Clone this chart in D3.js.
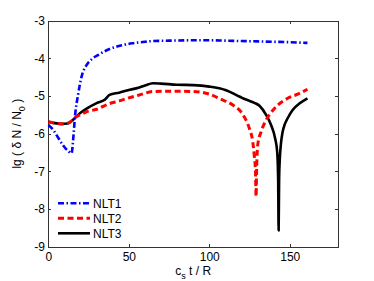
<!DOCTYPE html>
<html>
  <head>
    <meta charset='utf-8'>
    <title></title>
    <script src='https://d3js.org/d3.v7.min.js'></script>
    <style>
      body { margin: 0; background: #fff; }
      svg { display: block; background: #fff; }
      .axis text { font: 12px 'Liberation Sans', Arial, sans-serif; fill: #000; }
      .axis path, .axis line { fill: none; stroke: #333; stroke-width: 1px; shape-rendering: crispEdges; }
      .label, .legend text { font: 12px 'Liberation Sans', Arial, sans-serif; fill: #000; }
    </style>
  </head>
  <body>
  <script type='text/javascript'>

    // values
    var seriesNames = ['NLT1', 'NLT2', 'NLT3'];

    var tNLT1 = [0, 3, 6, 9, 12, 14.4, 15.5, 16.5, 18.5, 20.6, 23.7, 27, 31, 38, 45, 52, 60, 65, 75, 90, 100, 110, 120, 130, 140, 150, 161];
    var lgNLT1 = [-5.77, -5.9, -6.1, -6.3, -6.45, -6.52, -6.1, -5.55, -4.95, -4.49, -4.18, -4.02, -3.91, -3.75, -3.66, -3.6, -3.56, -3.54, -3.53, -3.52, -3.52, -3.53, -3.54, -3.55, -3.56, -3.57, -3.59];

    var tNLT2 = [0, 4, 8, 12, 14.5, 17, 20, 23.7, 30, 38, 44, 50, 56, 65, 75, 90, 100, 106.4, 114.6, 121, 124.9, 127, 128, 128.7, 129.1, 129.4, 130.1, 132.2, 135.3, 140.5, 148.7, 155, 161];
    var lgNLT2 = [-5.68, -5.72, -5.74, -5.72, -5.66, -5.56, -5.49, -5.42, -5.35, -5.2, -5.13, -5.05, -4.98, -4.88, -4.87, -4.88, -4.95, -5.07, -5.24, -5.5, -5.86, -6.21, -6.6, -7.0, -7.67, -7.0, -6.3, -5.95, -5.64, -5.33, -5.06, -4.95, -4.82];

    var tNLT3 = [0, 4, 8, 12, 16, 19.6, 24, 30, 35, 38, 44, 50, 56, 60, 65, 70, 80, 90, 100, 110, 119, 122, 125, 128, 131.2, 135.3, 138.4, 140.9, 142.2, 142.8, 143.1, 143.4, 143.8, 144.5, 145.6, 147, 148.7, 151.8, 156, 161];
    var lgNLT3 = [-5.68, -5.72, -5.74, -5.73, -5.6, -5.46, -5.33, -5.19, -5.1, -4.97, -4.91, -4.84, -4.78, -4.72, -4.66, -4.67, -4.7, -4.71, -4.75, -4.84, -5.02, -5.08, -5.13, -5.18, -5.26, -5.5, -5.77, -6.12, -6.48, -7.2, -8.57, -7.2, -6.7, -6.28, -5.95, -5.74, -5.59, -5.37, -5.2, -5.06];

    var xTicks = [0, 50, 100, 150];
    var yTicks = [-9, -8, -7, -6, -5, -4, -3];

    var width = 374;
    var height = 281;
    var margin = {top: 20.7, right: 36, bottom: 34.3, left: 48.4};
    var w = width - margin.left - margin.right;
    var h = height - margin.top - margin.bottom;

    var svg = d3.select('body').append('svg')
              .attr('width', width)
              .attr('height', height);

    var g = svg.append('g')
              .attr('transform', 'translate(' + margin.left + ',' + margin.top + ')');

    var x = d3.scaleLinear().domain([0, 180]).range([0, w]);
    var y = d3.scaleLinear().domain([-9, -3]).range([h, 0]);

    var fmt = function(d) { return String(d); };

    // axes, ticks pointing inward on all sides
    g.append('g').attr('class', 'axis')
      .attr('transform', 'translate(0,' + h + ')')
      .call(d3.axisBottom(x).tickValues(xTicks).tickSizeInner(-3).tickSizeOuter(0).tickPadding(6).tickFormat(fmt));
    g.append('g').attr('class', 'axis')
      .call(d3.axisTop(x).tickValues(xTicks).tickSizeInner(-3).tickSizeOuter(0).tickFormat(''));
    g.append('g').attr('class', 'axis')
      .call(d3.axisLeft(y).tickValues(yTicks).tickSizeInner(-3).tickSizeOuter(0).tickPadding(3.5).tickFormat(fmt));
    g.append('g').attr('class', 'axis')
      .attr('transform', 'translate(' + w + ',0)')
      .call(d3.axisRight(y).tickValues(yTicks).tickSizeInner(-3).tickSizeOuter(0).tickFormat(''));

    var styles = [
      {color: '#0000ff', dash: '6,2.5,1.5,2.5', width: 2.6},
      {color: '#ff0000', dash: '6,3.5', width: 3},
      {color: '#000000', dash: null, width: 2.6}
    ];
    var series = [
      d3.zip(tNLT1, lgNLT1),
      d3.zip(tNLT2, lgNLT2),
      d3.zip(tNLT3, lgNLT3)
    ];

    var line = d3.line()
              .curve(d3.curveMonotoneX)
              .x(function(d) { return x(d[0]); })
              .y(function(d) { return y(d[1]); });

    [2, 1, 0].forEach(function(i) {
      g.append('path')
        .datum(series[i])
        .attr('d', line)
        .attr('fill', 'none')
        .attr('stroke', styles[i].color)
        .attr('stroke-width', styles[i].width)
        .attr('stroke-dasharray', styles[i].dash)
        .attr('stroke-linejoin', 'round');
    });

    // legend
    var legend = svg.append('g').attr('class', 'legend')
              .attr('transform', 'translate(58,203.3)');
    seriesNames.forEach(function(name, i) {
      var row = legend.append('g').attr('transform', 'translate(0,' + (i * 15) + ')');
      row.append('line')
        .attr('x1', 0).attr('x2', 32).attr('y1', 0).attr('y2', 0)
        .attr('stroke', styles[i].color)
        .attr('stroke-width', styles[i].width)
        .attr('stroke-dasharray', styles[i].dash);
      row.append('text')
        .attr('x', 35).attr('y', 0).attr('dy', '0.36em')
        .text(name);
    });

    // axis labels
    var xl = svg.append('text').attr('class', 'label')
      .attr('x', margin.left + w / 2).attr('y', 274.5)
      .attr('text-anchor', 'middle');
    xl.append('tspan').text('c');
    xl.append('tspan').attr('dy', 4).style('font-size', '9px').text('s');
    xl.append('tspan').attr('dy', -4).text(' t / R');

    var yl = svg.append('text').attr('class', 'label')
      .attr('transform', 'translate(21,' + (margin.top + h / 2) + ') rotate(-90)')
      .attr('text-anchor', 'middle');
    yl.append('tspan').text('lg ( \u03b4 N / N');
    yl.append('tspan').attr('dy', 4).style('font-size', '9px').text('0');
    yl.append('tspan').attr('dy', -4).text(' )');

  </script>
  </body>
</html>
